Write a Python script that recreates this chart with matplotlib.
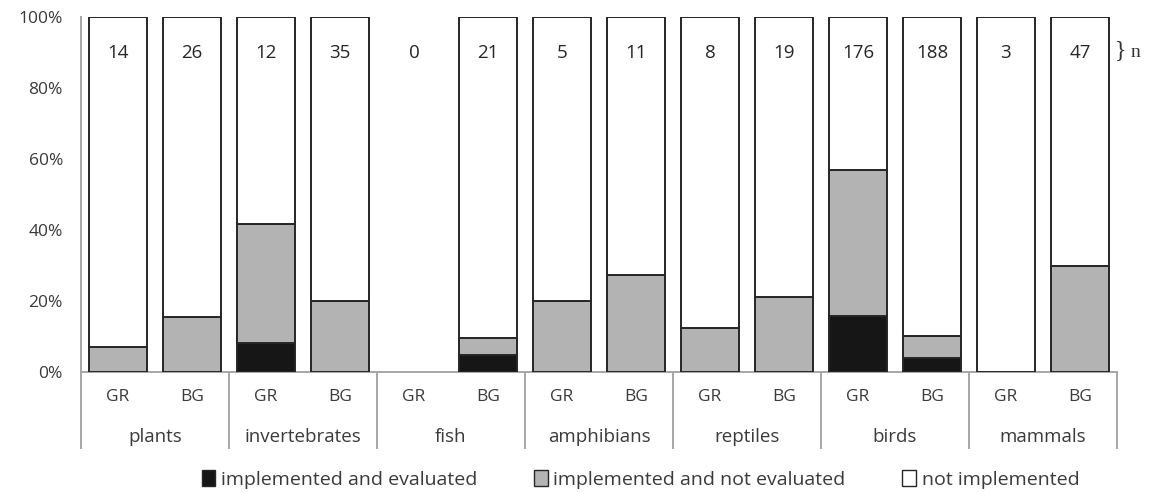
import matplotlib
matplotlib.use("Agg")
import matplotlib.pyplot as plt
from matplotlib.patches import Patch
import numpy as np

groups = ["plants", "invertebrates", "fish", "amphibians", "reptiles", "birds", "mammals"]
subgroups = ["GR", "BG"]
n_values = [14, 26, 12, 35, 0, 21, 5, 11, 8, 19, 176, 188, 3, 47]
evaluated = [0, 0, 8.3, 0, 0, 4.8, 0, 0, 0, 0, 15.9, 4.0, 0, 0]
not_evaluated = [7.1, 15.4, 33.3, 20.0, 0, 4.8, 20.0, 27.3, 12.5, 21.1, 40.9, 6.1, 0, 29.8]
not_implemented = [92.9, 84.6, 58.4, 80.0, 0, 90.4, 80.0, 72.7, 87.5, 78.9, 43.2, 89.9, 100, 70.2]
yticks = [0, 20, 40, 60, 80, 100]
legend_labels = ["implemented and evaluated", "implemented and not evaluated", "not implemented"]

plt.rcParams['font.family'] = ['Open Sans', 'DejaVu Sans']

c_black = "#161616"
c_gray = "#b3b3b3"
c_white = "#ffffff"
edge = "#262626"
axis_col = "#a6a6a6"
text_col = "#3a3a3a"

fig = plt.figure(figsize=(11.5, 4.93), dpi=100)
ax = fig.add_axes([0.0704, 0.2454, 0.9009, 0.7201])

x = np.arange(len(n_values))
w = 0.78
ev = np.array(evaluated)
ne = np.array(not_evaluated)
ni = np.array(not_implemented)

def draw(heights, bottoms, color):
    m = heights > 0
    ax.bar(x[m], heights[m], w, bottom=bottoms[m], color=color,
           edgecolor=edge, linewidth=1.4, zorder=3)

draw(ev, np.zeros_like(ev), c_black)
draw(ne, ev, c_gray)
draw(ni, ev + ne, c_white)

ax.set_xlim(-0.5, len(n_values) - 0.5)
ax.set_ylim(0, 100)
ax.set_yticks(yticks)
ax.set_yticklabels([f"{v}%" for v in yticks], fontsize=12.5, color=text_col)
ax.tick_params(axis='y', length=0, pad=13)
ax.set_xticks([])
for s in ["top", "right"]:
    ax.spines[s].set_visible(False)
for s in ["left", "bottom"]:
    ax.spines[s].set_color(axis_col)
    ax.spines[s].set_linewidth(1.4)

tr = ax.get_xaxis_transform()
# n labels
for xi, nv in zip(x, n_values):
    ax.text(xi, 90, str(nv), ha='center', va='center', fontsize=13.5, color="#262626", zorder=4)
ax.text(len(n_values) - 0.5 - 0.03, 90.5, "}", ha='left', va='center', fontsize=17,
        family=['Liberation Serif'], color="#333333", clip_on=False)
ax.text(len(n_values) - 0.5 + 0.18, 90, "n", ha='left', va='center', fontsize=14,
        family=['Liberation Serif'], color="#333333", clip_on=False)

# category table
for gi in range(len(groups) + 1):
    xb = gi * 2 - 0.5
    ax.plot([xb, xb], [0, -0.214], transform=tr, color=axis_col, lw=1.4, clip_on=False)
for xi in x:
    ax.text(xi, -0.07, subgroups[xi % 2], transform=tr, ha='center', va='center',
            fontsize=12.5, color=text_col)
for gi, g in enumerate(groups):
    ax.text(gi * 2 + 0.5, -0.183, g, transform=tr, ha='center', va='center',
            fontsize=13.5, color=text_col)

handles = [Patch(facecolor=c, edgecolor=edge, linewidth=1.0) for c in [c_black, c_gray, c_white]]
fig.legend(handles, legend_labels, loc='center', bbox_to_anchor=(0.557, 0.027), ncol=3,
           frameon=False, fontsize=14, handlelength=0.7, handleheight=0.9,
           handletextpad=0.3, columnspacing=2.9, labelcolor=text_col)

fig.savefig("out.png", dpi=100)
